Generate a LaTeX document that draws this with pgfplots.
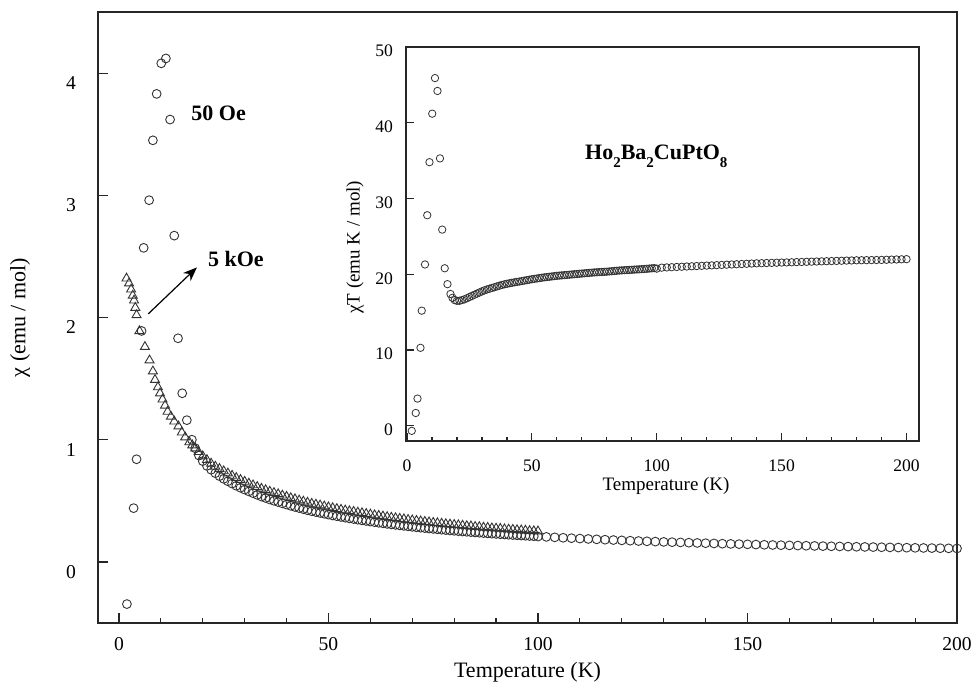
\documentclass[border=0pt]{standalone}
\usepackage{fontspec}
\setmainfont{Liberation Serif}
\usepackage{pgfplots}
\usepackage{pgfplotstable}
\pgfplotsset{compat=1.18}
\usetikzlibrary{arrows.meta}

% 50 Oe: T, chi (main), chi*T (inset)
\pgfplotstableread{
T chi chiT
1.9 -0.345 -0.66
3.5 0.44 1.7
4.2 0.84 3.6
5.4 1.89 10.3
5.9 2.57 15.2
7.2 2.96 21.3
8.1 3.45 27.8
9.0 3.83 34.8
10.1 4.08 41.2
11.2 4.12 45.9
12.2 3.62 44.2
13.2 2.67 35.3
14.1 1.83 25.9
15.1 1.38 20.8
16.2 1.16 18.7
17.4 1.00 17.4
18.2 0.93 16.9
19.1 0.87 16.6
20 0.825 16.5
21 0.786 16.5
22 0.7545 16.6
23 0.726 16.7
24 0.702 16.85
25 0.680 17.0
26 0.660 17.15
27 0.641 17.3
28 0.623 17.45
29 0.607 17.6
30 0.592 17.75
31 0.577 17.88
32 0.5625 18.0
33 0.5485 18.1
34 0.535 18.2
35 0.523 18.3
36 0.511 18.4
37 0.500 18.5
38 0.4895 18.6
39 0.479 18.68
40 0.469 18.75
41 0.459 18.82
42 0.4495 18.88
43 0.4405 18.94
44 0.432 19.0
45 0.423 19.05
46 0.415 19.11
47 0.408 19.17
48 0.4006 19.23
49 0.394 19.29
50 0.387 19.35
51 0.380 19.4
52 0.374 19.45
53 0.368 19.5
54 0.362 19.55
55 0.356 19.6
56 0.351 19.64
57 0.345 19.68
58 0.340 19.72
59 0.335 19.76
60 0.330 19.8
61 0.325 19.83
62 0.320 19.86
63 0.316 19.89
64 0.311 19.92
65 0.307 19.95
66 0.303 19.98
67 0.299 20.01
68 0.295 20.04
69 0.291 20.07
70 0.287 20.1
71 0.2835 20.13
72 0.280 20.16
73 0.2766 20.19
74 0.2732 20.22
75 0.270 20.25
76 0.2667 20.27
77 0.2635 20.29
78 0.2604 20.31
79 0.2573 20.33
80 0.2544 20.35
81 0.2516 20.38
82 0.2489 20.41
83 0.2463 20.44
84 0.2437 20.47
85 0.2412 20.5
86 0.2386 20.52
87 0.2361 20.54
88 0.2336 20.56
89 0.2312 20.58
90 0.2289 20.6
91 0.2266 20.62
92 0.2243 20.64
93 0.2222 20.66
94 0.2200 20.68
95 0.2179 20.7
96 0.2159 20.73
97 0.2140 20.76
98 0.2121 20.79
99 0.2103 20.82
100 0.2075 20.75
102 0.2047 20.88
104 0.2011 20.91
106 0.1975 20.94
108 0.1942 20.97
110 0.1909 21.0
112 0.1878 21.03
114 0.1847 21.06
116 0.1818 21.09
118 0.1790 21.12
120 0.1763 21.15
122 0.1736 21.18
124 0.1710 21.21
126 0.1686 21.24
128 0.1662 21.27
130 0.1638 21.3
132 0.1616 21.33
134 0.1594 21.36
136 0.1573 21.39
138 0.1552 21.42
140 0.1532 21.45
142 0.1512 21.47
144 0.1492 21.49
146 0.1473 21.51
148 0.1455 21.53
150 0.1437 21.55
152 0.1419 21.57
154 0.1402 21.59
156 0.1385 21.61
158 0.1369 21.63
160 0.1353 21.65
162 0.1338 21.67
164 0.1323 21.69
166 0.1308 21.71
168 0.1293 21.73
170 0.1279 21.75
172 0.1266 21.77
174 0.1252 21.79
176 0.1239 21.81
178 0.1226 21.83
180 0.1214 21.85
182 0.1201 21.86
184 0.1189 21.87
186 0.1176 21.88
188 0.1164 21.89
190 0.1153 21.9
192 0.1142 21.92
194 0.1131 21.94
196 0.1120 21.96
198 0.1110 21.98
200 0.1100 22.0
}\circdata

% 5 kOe: T, chi
\pgfplotstableread{
T chi
1.8 2.32
2.4 2.28
2.9 2.23
3.3 2.18
3.6 2.14
3.9 2.08
4.2 2.02
4.9 1.89
6.2 1.76
7.3 1.65
8.1 1.56
8.6 1.49
9.3 1.43
9.8 1.38
10.4 1.33
11.0 1.28
11.6 1.23
12.4 1.19
13.2 1.15
14.2 1.11
15.0 1.06
15.8 1.02
16.8 0.98
17.5 0.955
18.2 0.93
19 0.90
20 0.865
21 0.835
22 0.805
23 0.781
24 0.762
25 0.743
26 0.725
27 0.706
28 0.688
29 0.672
30 0.657
31 0.642
32 0.628
33 0.614
34 0.600
35 0.588
36 0.576
37 0.565
38 0.555
39 0.544
40 0.534
41 0.523
42 0.514
43 0.504
44 0.495
45 0.486
46 0.477
47 0.470
48 0.463
49 0.455
50 0.448
51 0.441
52 0.434
53 0.428
54 0.422
55 0.416
56 0.411
57 0.405
58 0.400
59 0.394
60 0.389
61 0.383
62 0.378
63 0.373
64 0.368
65 0.363
66 0.359
67 0.354
68 0.350
69 0.345
70 0.341
71 0.337
72 0.333
73 0.329
74 0.325
75 0.321
76 0.318
77 0.314
78 0.310
79 0.307
80 0.304
81 0.301
82 0.298
83 0.294
84 0.292
85 0.288
86 0.286
87 0.282
88 0.280
89 0.276
90 0.274
91 0.272
92 0.268
93 0.266
94 0.264
95 0.261
96 0.259
97 0.257
98 0.254
99 0.252
100 0.251
}\tridata

\newcommand{\sub}[1]{\raisebox{-4.3pt}{\fontsize{7.5}{8}\selectfont #1}}

\begin{document}
\begin{tikzpicture}
\useasboundingbox (0,0) rectangle (486pt,341pt);

\begin{axis}[
  at={(49pt,29.5pt)}, anchor=south west,
  scale only axis, width=429.5pt, height=305.5pt,
  xmin=-5, xmax=200, ymin=-0.5, ymax=4.5,
  xtick={0,50,...,200}, minor x tick num=4,
  ytick={0,1,2,3,4},
  xtick pos=lower, ytick pos=lower,
  tick align=inside,
  major tick length=5pt, minor tick length=2.5pt,
  axis line style={line width=0.75pt, black!85},
  every tick/.style={black!85, line width=0.6pt},
  /pgf/number format/assume math mode=true,
  ticklabel style={font=\fontsize{9.8}{11}\selectfont},
  xticklabel style={yshift=-3.5pt},
  yticklabel style={xshift=-7.5pt, yshift=-5pt},
  every axis x label/.style={at={(axis description cs:0.5,-0.0884)}, anchor=base},
  every axis y label/.style={at={(axis description cs:-0.0908,0.5)}, rotate=90, anchor=center},
  label style={font=\fontsize{11}{13}\selectfont},
  xlabel={Temperature (K)},
  ylabel={χ (emu / mol)},
  clip=false,
]
\addplot[only marks, mark=o, mark size=2.2pt, mark options={line width=0.45pt, draw=black!80}]
  table[x=T, y=chi] {\circdata};
\addplot[only marks, mark=triangle, mark size=2.6pt, mark options={line width=0.45pt, draw=black!80}]
  table[x=T, y=chi] {\tridata};
\node[anchor=west, font=\fontsize{11}{13}\selectfont\bfseries] at (axis cs:15.6,3.67) {50 Oe};
\node[anchor=west, font=\fontsize{11}{13}\selectfont\bfseries] at (axis cs:19.6,2.48) {5 kOe};
\draw[-{Stealth[length=7pt,width=5.5pt]}, line width=0.6pt] (axis cs:7.0,2.03) -- (axis cs:18.6,2.41);
\end{axis}

\begin{axis}[
  at={(203pt,120.5pt)}, anchor=south west,
  scale only axis, width=256.5pt, height=197pt,
  xmin=-0.4, xmax=205, ymin=-2, ymax=50,
  xtick={0,50,...,200}, minor x tick num=4,
  ytick={0,10,...,50},
  xtick pos=lower, ytick pos=lower,
  tick align=inside,
  major tick length=4pt, minor tick length=2pt,
  axis background/.style={fill=white},
  axis line style={line width=0.7pt, black!85},
  every tick/.style={black!85, line width=0.6pt},
  /pgf/number format/assume math mode=true,
  ticklabel style={font=\fontsize{8.8}{10}\selectfont},
  xticklabel style={yshift=-6pt},
  yticklabel style={xshift=-3pt, yshift=-2pt},
  every axis x label/.style={at={(axis description cs:0.507,-0.1244)}, anchor=base},
  every axis y label/.style={at={(axis description cs:-0.0994,0.492)}, rotate=90, anchor=center},
  label style={font=\fontsize{9.5}{11}\selectfont},
  xlabel={Temperature (K)},
  ylabel={χT (emu K / mol)},
]
\addplot[only marks, mark=o, mark size=1.85pt, mark options={line width=0.4pt, draw=black!80}]
  table[x=T, y=chiT] {\circdata};
\node[anchor=base west, font=\fontsize{11}{13}\selectfont\bfseries] at (axis cs:68.5,35.2)
  {Ho\sub{2}Ba\sub{2}CuPtO\sub{8}};
\end{axis}
\end{tikzpicture}
\end{document}
